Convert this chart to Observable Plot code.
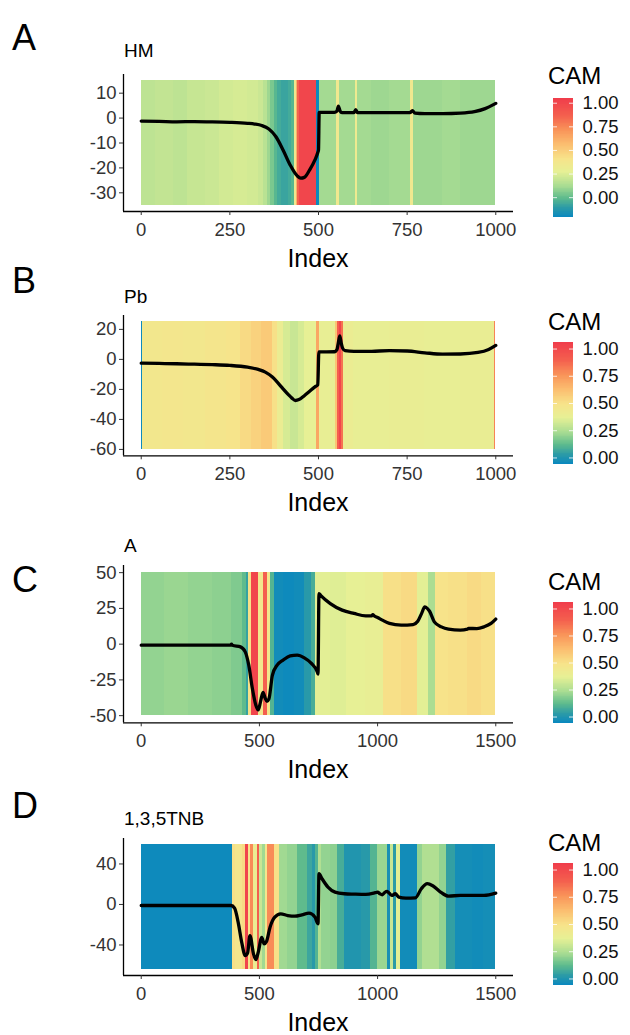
<!DOCTYPE html>
<html><head><meta charset="utf-8">
<script src="https://cdn.jsdelivr.net/npm/d3@7"></script>
<script src="https://cdn.jsdelivr.net/npm/@observablehq/plot@0.6"></script>
<style>
body{margin:0;background:#fff;font-family:"Liberation Sans",Arial,sans-serif;}
#root{position:relative;width:630px;height:1035px;overflow:hidden;background:#fff;}
.abs{position:absolute;line-height:1;color:#000;white-space:nowrap;}
svg{overflow:visible;}
</style></head><body><div id="root"></div>
<script>
// ---------- palette (CAM colour ramp, blue -> red) ----------
const palStops = [0, 0.08, 0.16, 0.26, 0.38, 0.49, 0.61, 0.73, 0.85, 1.0];
const palColors = ["#0a88bf","#2c9ba6","#5ebb8d","#a8dc92","#e6f095","#f7e38a","#fbbe70","#f99459","#f4604e","#f03c4b"];
const legendTicks = [0, 0.25, 0.5, 0.75, 1];

// ---------- Panel A : HM ----------
const hmStartA = [0,40,90,130,180,220,260,300,330,345,355,365,375,385,395,415,425,432,437,442,446,494,503,552,559,604,611,650,700,760,767,850,900];
const hmCamA   = [0.17,0.18,0.17,0.19,0.20,0.22,0.23,0.22,0.20,0.16,0.10,0.04,-0.02,-0.06,-0.08,-0.06,-0.02,0.36,0.60,0.85,1.00,-0.20,0.11,0.35,0.11,0.33,0.11,0.10,0.11,0.35,0.10,0.11,0.10];
const lineIdxA = [0,50,100,150,200,250,300,320,340,360,380,400,420,440,450,460,475,490,498,500,502,545,552,556,561,566,600,605,610,650,700,758,765,772,800,850,900,940,970,1000];
const lineValA = [-1.2,-1.3,-1.5,-1.4,-1.5,-1.7,-2.1,-2.4,-3,-4.4,-7.5,-12.8,-18.8,-23.2,-24.1,-23.8,-20.8,-16.8,-13.8,-12.8,2.3,2.3,2.8,4.8,2.8,2.2,2.2,3.4,2.2,2.2,2.2,2.2,3.0,2.0,1.8,1.8,2.0,2.6,3.8,5.9];
const xTicksA = [0,250,500,750,1000];
const yTicksA = [-30,-20,-10,0,10];

// ---------- Panel B : Pb ----------
const hmStartB = [0,3,60,120,180,240,280,310,340,370,385,400,420,445,460,495,503,548,553,558,566,571,600,700,800,900,996];
const hmCamB   = [-0.05,0.45,0.46,0.45,0.47,0.48,0.52,0.55,0.58,0.50,0.40,0.33,0.30,0.33,0.37,0.70,0.38,0.60,0.90,1.02,0.85,0.40,0.38,0.39,0.38,0.39,0.80];
const lineIdxB = [0,50,100,150,200,250,300,330,350,370,385,400,415,425,435,445,460,475,490,498,501,545,552,556,560,564,568,575,600,650,700,750,800,850,900,950,980,1000];
const lineValB = [-2.5,-2.7,-2.9,-3.2,-3.5,-4,-5.2,-6.7,-8.5,-11.8,-15.5,-19.6,-23.5,-25.8,-27.4,-26.8,-24.2,-21.2,-18.3,-17,5,5.1,6.5,11.2,15.6,11,7.5,5.8,5.3,5.4,5.8,5.6,4.4,3.5,3.6,4.6,6.6,9.3];
const xTicksB = [0,250,500,750,1000];
const yTicksB = [-60,-40,-20,0,20];

// ---------- Panel C : A ----------
const hmStartC = [0,100,200,300,380,430,445,455,465,496,517,534,545,562,600,650,690,720,738,800,870,950,1026,1100,1167,1216,1244,1300,1380,1440];
const hmCamC   = [0.20,0.21,0.20,0.19,0.17,0.12,0.05,0.50,1.02,0.45,0.90,0.45,0.10,-0.04,-0.05,-0.04,0.02,0.08,0.36,0.35,0.37,0.38,0.50,0.52,0.36,0.24,0.49,0.50,0.52,0.50];
const lineIdxC = [0,100,200,300,378,382,386,420,440,455,470,485,495,505,515,525,532,540,555,575,600,630,660,690,720,745,748,752,760,800,850,900,950,975,980,985,1000,1020,1050,1100,1150,1170,1185,1200,1210,1220,1240,1270,1300,1350,1380,1385,1420,1450,1480,1500];
const lineValC = [-0.7,-0.7,-0.7,-0.7,-0.7,0,-0.8,-1.9,-5.4,-14.7,-30.8,-42.7,-46,-40,-33.8,-38,-40,-38.5,-21.7,-14.7,-11.2,-8.2,-7.7,-9.6,-13.5,-19.5,-21,35.4,34,28.4,23.8,21.5,19.8,19.8,20.6,19.8,18.6,16.8,14.5,13.3,13.7,16,21,26,25,23,15.6,12.1,10.5,9.8,10.5,11,10.9,12.1,14.5,17.5];
const xTicksC = [0,500,1000,1500];
const yTicksC = [-50,-25,0,25,50];

// ---------- Panel D : 1,3,5TNB ----------
const hmStartD = [0,387,400,430,443,453,464,475,492,499,513,525,534,562,583,620,661,703,725,738,750,762,800,830,860,930,970,998,1040,1054,1068,1082,1096,1167,1190,1260,1293,1330,1400,1450];
const hmCamD   = [-0.05,0.50,0.47,0.52,1.02,0.48,0.78,0.40,0.90,0.30,0.22,0.45,0.78,0.50,0.22,0.20,0.12,0.06,0.02,0.10,0.25,0.20,0.19,0.08,0.00,0.02,0.10,0.21,-0.02,0.30,0.03,0.36,-0.04,0.20,0.25,0.20,0.04,-0.03,-0.04,-0.03];
const lineIdxD = [0,100,200,300,380,395,410,425,440,450,460,475,485,495,510,520,530,545,565,590,620,650,680,710,735,748,752,765,790,820,860,900,950,990,1000,1010,1020,1030,1040,1050,1060,1075,1090,1120,1160,1185,1210,1235,1270,1300,1350,1400,1450,1500];
const lineValD = [-1,-1,-1,-1,-1,-3.7,-17.5,-37.3,-50.5,-48,-30.7,-48.8,-54.5,-47.2,-32.4,-38.9,-36.6,-22.4,-12.5,-9.2,-10.9,-11.6,-10.2,-8.6,-12.5,-19.1,30.4,25.4,17.2,12.2,10.6,10.2,9.9,11.6,12.2,10.5,9.6,11.8,12.9,11,8.9,10.6,7.3,6.3,6.6,15.5,20.5,18.2,11.6,8.3,8.9,8.9,8.9,11.2];
const xTicksD = [0,500,1000,1500];
const yTicksD = [-40,0,40];

// ---------- layout ----------
const root = document.getElementById("root");
function addText(txt, x, yCenter, size, opts = {}) {
  const d = document.createElement("div");
  d.className = "abs";
  d.textContent = txt;
  d.style.fontSize = size + "px";
  d.style.top = (yCenter - 0.49 * size) + "px";
  if (opts.center) { d.style.left = (x - 200) + "px"; d.style.width = "400px"; d.style.textAlign = "center"; }
  else d.style.left = x + "px";
  root.appendChild(d);
}
function place(node, left, top) {
  node.style.position = "absolute";
  node.style.left = left + "px";
  node.style.top = top + "px";
  root.appendChild(node);
}

const panels = [
  {letter:"A", title:"HM", starts:hmStartA, cams:hmCamA, li:lineIdxA, lv:lineValA, xt:xTicksA, yt:yTicksA,
   xmax:1000, hm:[-35,15], ydom:[-37.5,17.5], ytop:74.25, ybot:211.25, cdom:[-0.21,1.05],
   letterY:38, titleY:50, leg:{camY:76, top:98, bot:217}},
  {letter:"B", title:"Pb", starts:hmStartB, cams:hmCamB, li:lineIdxB, lv:lineValB, xt:xTicksB, yt:yTicksB,
   xmax:1000, hm:[-60,25], ydom:[-64.25,29.25], ytop:315.1, ybot:455.4, cdom:[-0.06,1.06],
   letterY:281, titleY:296, leg:{camY:322, top:342, bot:464}},
  {letter:"C", title:"A", starts:hmStartC, cams:hmCamC, li:lineIdxC, lv:lineValC, xt:xTicksC, yt:yTicksC,
   xmax:1500, hm:[-50,50], ydom:[-55,55], ytop:565.4, ybot:722.7, cdom:[-0.06,1.06],
   letterY:580, titleY:545, leg:{camY:582, top:602, bot:723}},
  {letter:"D", title:"1,3,5TNB", starts:hmStartD, cams:hmCamD, li:lineIdxD, lv:lineValD, xt:xTicksD, yt:yTicksD,
   xmax:1500, hm:[-64,59], ydom:[-70.15,65.15], ytop:838, ybot:975, cdom:[-0.06,1.06],
   letterY:806, titleY:818, leg:{camY:843, top:863, bot:985}}
];

const FONT = "'Liberation Sans', Arial, sans-serif";

for (const p of panels) {
  const colorScale = {
    type: "linear",
    domain: palStops.map(t => p.cdom[0] + t * (p.cdom[1] - p.cdom[0])),
    range: palColors,
    interpolate: "rgb"
  };
  const cells = p.starts.map((s, i) => ({
    x1: s, x2: i < p.starts.length - 1 ? p.starts[i + 1] : p.xmax, cam: p.cams[i]
  }));
  const pts = p.li.map((x, i) => ({x, y: p.lv[i]}));
  const pad = p.xmax * 0.05;
  const mt = 10, mb = 40;
  const H = (p.ybot - p.ytop) + mt + mb;
  const chart = Plot.plot({
    width: 530, height: H,
    marginLeft: 123, marginRight: 17, marginTop: mt, marginBottom: mb,
    style: {fontFamily: FONT, fontSize: "18.5px", color: "#333", background: "transparent"},
    x: {domain: [-pad, p.xmax + pad]},
    y: {domain: p.ydom},
    color: colorScale,
    marks: [
      Plot.rect(cells, {x1: "x1", x2: "x2", y1: () => p.hm[0], y2: () => p.hm[1], fill: "cam", shapeRendering: "crispEdges"}),
      Plot.line(pts, {x: "x", y: "y", stroke: "black", strokeWidth: 3.3, curve: "monotone-x", strokeLinejoin: "round", strokeLinecap: "round"}),
      Plot.ruleY([p.ydom[0]], {stroke: "black", strokeWidth: 1.3}),
      Plot.ruleX([-pad], {stroke: "black", strokeWidth: 1.3}),
      Plot.axisX({ticks: p.xt, tickSize: 4, tickPadding: 7, label: null, tickFormat: d => String(d), stroke: "#333"}),
      Plot.axisY({ticks: p.yt, tickSize: 4, tickPadding: 3, label: null, tickFormat: d => String(d), stroke: "#333"})
    ]
  });
  place(chart, 0, p.ytop - mt);

  // legend
  const lmt = 10, lmb = 10;
  const LH = (p.leg.bot - p.leg.top) + lmt + lmb;
  const nb = 150;
  const bins = d3.range(nb).map(i => {
    const a = p.cdom[0] + (p.cdom[1] - p.cdom[0]) * i / nb;
    const b = p.cdom[0] + (p.cdom[1] - p.cdom[0]) * (i + 1) / nb;
    return {a, b, m: (a + b) / 2};
  });
  const legend = Plot.plot({
    width: 85, height: LH,
    marginLeft: 8, marginRight: 57, marginTop: lmt, marginBottom: lmb,
    style: {fontFamily: FONT, fontSize: "18.5px", color: "#111", background: "transparent"},
    x: {domain: [0, 1], axis: null},
    y: {domain: p.cdom, axis: null},
    color: colorScale,
    marks: [
      Plot.rect(bins, {x1: () => 0, x2: () => 1, y1: "a", y2: "b", fill: "m", shapeRendering: "crispEdges"}),
      Plot.ruleY(legendTicks, {x1: () => 0, x2: () => 0.2, stroke: "white", strokeOpacity: 0.8, strokeWidth: 1}),
      Plot.ruleY(legendTicks, {x1: () => 0.8, x2: () => 1, stroke: "white", strokeOpacity: 0.8, strokeWidth: 1}),
      Plot.axisY({anchor: "right", ticks: legendTicks, tickSize: 0, tickPadding: 9, tickFormat: d3.format(".2f"), label: null})
    ]
  });
  place(legend, 545, p.leg.top - lmt);

  addText(p.letter, 12, p.letterY, 36);
  addText(p.title, 124, p.titleY, 19);
  addText("CAM", 548, p.leg.camY, 24);
  addText("Index", 318, p.ybot + 47, 25, {center: true});
}
</script></body></html>
